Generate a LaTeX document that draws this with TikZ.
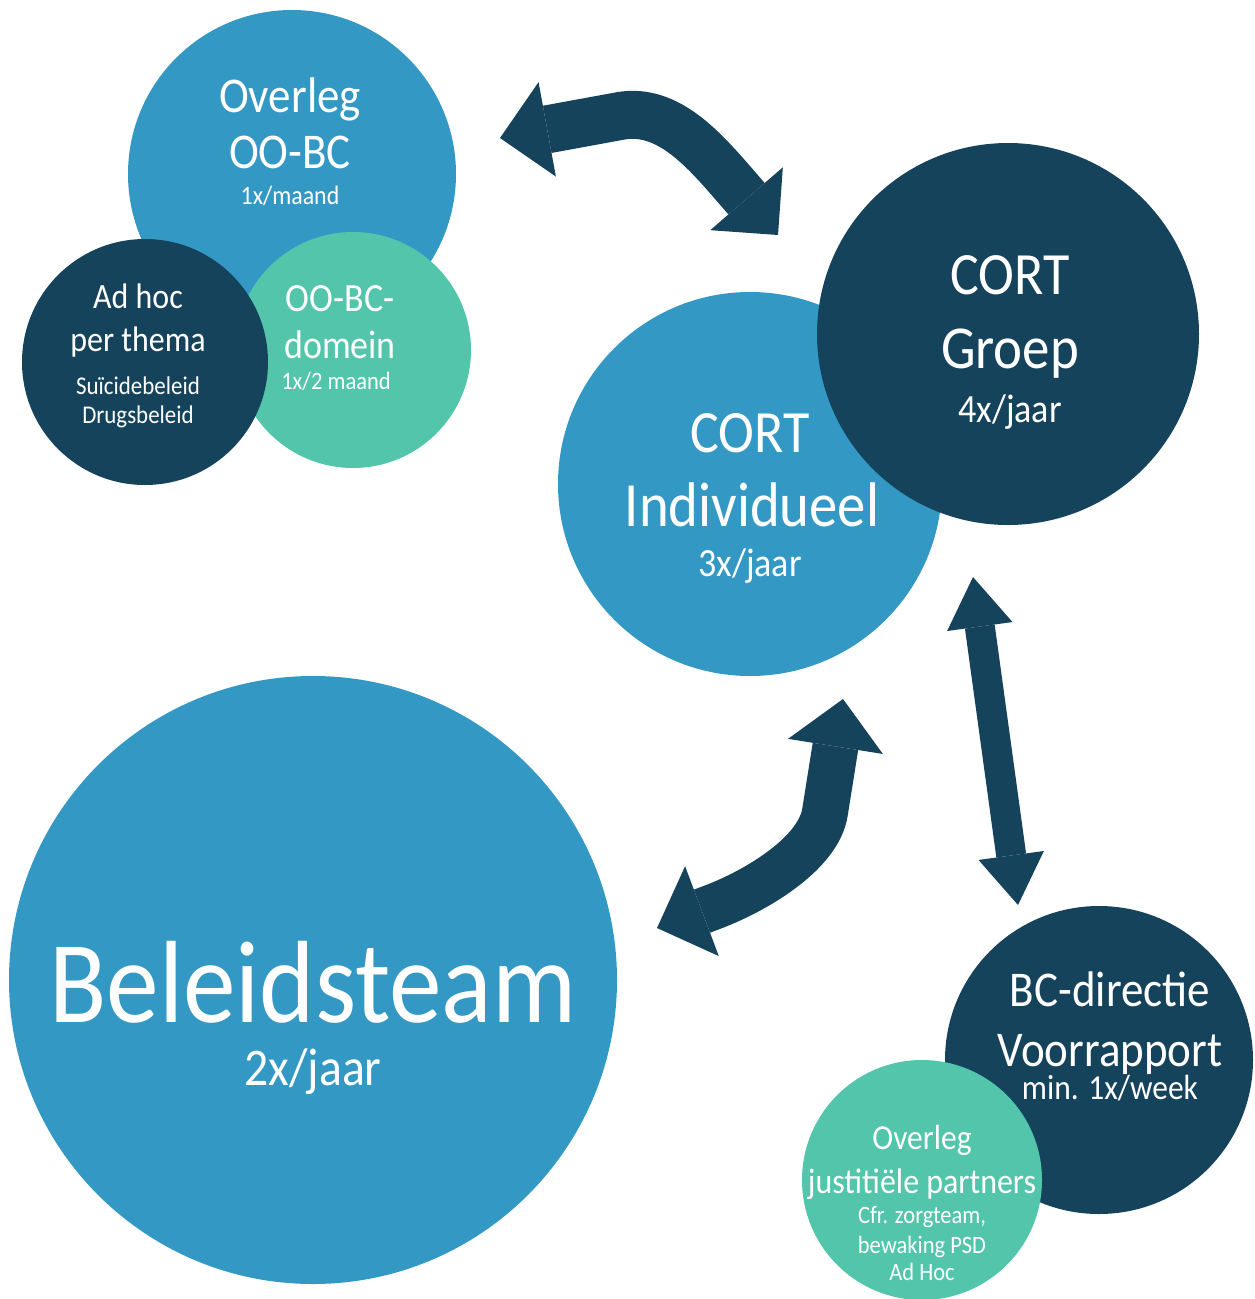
\documentclass[tikz,border=0pt]{standalone}
\usepackage{fontspec}
\setmainfont{Carlito}[FakeStretch=0.9]
\usetikzlibrary{arrows.meta}

\definecolor{lichtblauw}{HTML}{3399C4}
\definecolor{donkerblauw}{HTML}{15435C}
\definecolor{groen}{HTML}{52C5AA}

\begin{document}
\begin{tikzpicture}[
                    x = 1pt, y = -1pt, % pixel grid, y down
                    bol/.style = {circle, inner sep = 0, minimum size = #1},
                    tekst/.style = {text = white, inner sep = 0, anchor = base,
                                    font = \fontsize{#1}{#1}\selectfont},
                    pijl/.style = {draw = donkerblauw, line width = #1}
            ]

            \tikzstyle{breed}=[{Triangle[width = 96pt, length = 48pt, line width = 0pt]}-{Triangle[width = 96pt, length = 48pt, line width = 0pt]}]
            \tikzstyle{smal}=[{Triangle[width = 66pt, length = 50pt, line width = 0pt]}-{Triangle[width = 66pt, length = 50pt, line width = 0pt]}]

            \useasboundingbox (0,0) rectangle (1255,1299);

            % cirkels
            \node[bol = 328, fill = lichtblauw] (OOBC) at (292,174) {};
            \node[bol = 236, fill = groen] (domein) at (353,350) {};
            \node[bol = 246, fill = donkerblauw] (adhoc) at (145,362) {};
            \node[bol = 384, fill = lichtblauw] (indiv) at (750,484) {};
            \node[bol = 382, fill = donkerblauw] (groep) at (1008,334) {};
            \node[bol = 608, fill = lichtblauw] (beleid) at (313,980) {};
            \node[bol = 308, fill = donkerblauw] (directie) at (1099,1060) {};
            \node[bol = 240, fill = groen] (justitie) at (922,1180) {};

            % teksten
            \node[tekst = 50] (t1) at (290,112) {Overleg};
            \node[tekst = 50] (t2) at (290,168) {OO-BC};
            \node[tekst = 26.5] (t3) at (290,204) {1x/maand};

            \node[tekst = 35.5] (t4) at (138,308) {Ad hoc};
            \node[tekst = 35.5] (t5) at (138,351) {per thema};
            \node[tekst = 25.5] (t6) at (138,394) {Suïcidebeleid};
            \node[tekst = 25.5] (t7) at (138,423) {Drugsbeleid};

            \node[tekst = 40] (t8) at (340,311) {OO-BC-};
            \node[tekst = 40] (t9) at (340,358) {domein};
            \node[tekst = 25] (t10) at (336,389) {1x/2 maand};

            \node[tekst = 60] (t11) at (1010,294) {CORT};
            \node[tekst = 61] (t12) at (1010,368) {Groep};
            \node[tekst = 40] (t13) at (1010,422) {4x/jaar};

            \node[tekst = 60] (t14) at (750,452) {CORT};
            \node[tekst = 63] (t15) at (752,526) {Individueel};
            \node[tekst = 40] (t16) at (750,576) {3x/jaar};

            \node[tekst = 117] (t17) at (313,1022) {Beleidsteam};
            \node[tekst = 53] (t18) at (313,1085) {2x/jaar};

            \node[tekst = 50] (t19) at (1110,1006) {BC-directie};
            \node[tekst = 50] (t20) at (1110,1066) {Voorrapport};
            \node[tekst = 35] (t21) at (1110,1099) {min. 1x/week};

            \node[tekst = 35] (t22) at (922,1149) {Overleg};
            \node[tekst = 35.5] (t23) at (922,1193) {justitiële partners};
            \node[tekst = 25] (t24) at (922,1223) {Cfr. zorgteam,};
            \node[tekst = 25] (t25) at (922,1253) {bewaking PSD};
            \node[tekst = 25] (t26) at (922,1280) {Ad Hoc};

            % pijlen
            \coordinate (p1a) at (500,138);
            \coordinate (p1b) at (778,235);
            \coordinate (p2a) at (843,699);
            \coordinate (p2b) at (657,928);
            \coordinate (p3a) at (973,577);
            \coordinate (p3b) at (1018,905);

            \draw[pijl = 48, breed] (p1a) -- (620,116) .. controls (669,107) and (706,152) .. (739,190) -- (p1b);
            \draw[pijl = 46, breed] (p2a) -- (825,812) .. controls (819,852) and (760,889) .. (713,907) -- (p2b);
            \draw[pijl = 30, smal] (p3a) -- (p3b);
        \end{tikzpicture}
\end{document}
